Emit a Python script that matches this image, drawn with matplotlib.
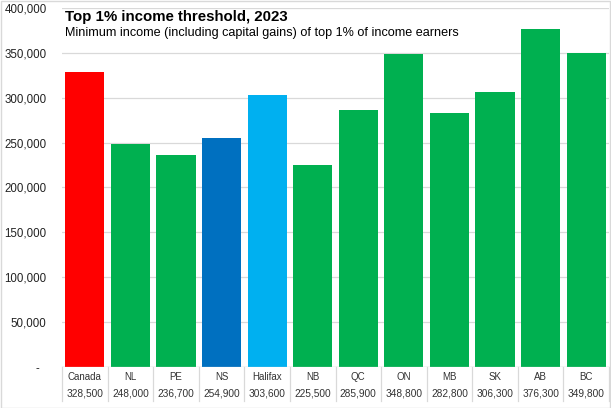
import matplotlib
matplotlib.use("Agg")
import matplotlib.pyplot as plt
from matplotlib.patches import Rectangle
from matplotlib.lines import Line2D

categories = ["Canada", "NL", "PE", "NS", "Halifax", "NB", "QC", "ON", "MB", "SK", "AB", "BC"]
values = [328500, 248000, 236700, 254900, 303600, 225500, 285900, 348800, 282800, 306300, 376300, 349800]
colors = ["#FF0000", "#00B050", "#00B050", "#0070C0", "#00B0F0", "#00B050", "#00B050",
          "#00B050", "#00B050", "#00B050", "#00B050", "#00B050"]
yticks = [0, 50000, 100000, 150000, 200000, 250000, 300000, 350000, 400000]
title = "Top 1% income threshold, 2023"
subtitle = "Minimum income (including capital gains) of top 1% of income earners"

plt.rcParams['font.family'] = ['Liberation Sans', 'DejaVu Sans']
W, H = 611, 408
fig = plt.figure(figsize=(W/100, H/100), dpi=100)
ax = fig.add_axes([62/W, (H-367)/H, (609-62)/W, (367-8)/H])

x = list(range(len(categories)))
ax.bar(x, values, width=0.86, color=colors, zorder=3)
ax.set_xlim(-0.5, len(categories)-0.5)
ax.set_ylim(0, 400000)
ax.set_yticks(yticks)
ax.set_yticklabels(["-  "] + [f"{v:,}" for v in yticks[1:]], fontsize=8.3, color="#222222")
ax.tick_params(axis='y', length=0, pad=11)
ax.set_xticks([])
ax.grid(axis='y', color="#D9D9D9", linewidth=0.9, zorder=0)
for s in ax.spines.values():
    s.set_visible(False)
ax.axhline(0, color="#D9D9D9", linewidth=0.9, zorder=4)

# data table below
trans = ax.get_xaxis_transform()
for i, (c, v) in enumerate(zip(categories, values)):
    ax.text(i, -(377-367)/359, c, transform=trans, ha='center', va='center', fontsize=7, color="#333333", clip_on=False)
    ax.text(i, -(394-367)/359, f"{v:,}", transform=trans, ha='center', va='center', fontsize=7.3, color="#333333", clip_on=False)
for b in range(0, len(categories)+1):
    ax.add_line(Line2D([b-0.5, b-0.5], [0, -(401-367)/359], transform=trans, color="#D9D9D9", linewidth=0.9, clip_on=False))

# figure border
fig.add_artist(Rectangle((0.5/W, 0.5/H), (W-1.5)/W, (H-1.5)/H, transform=fig.transFigure, fill=False, edgecolor="#D9D9D9", linewidth=1))

fig.text(65/W, (H-17)/H, title, fontsize=10.8, fontweight='bold', ha='left', va='center', color="#000000")
fig.text(65/W, (H-33)/H, subtitle, fontsize=9.1, ha='left', va='center', color="#000000")

fig.savefig("out.png", dpi=100)
